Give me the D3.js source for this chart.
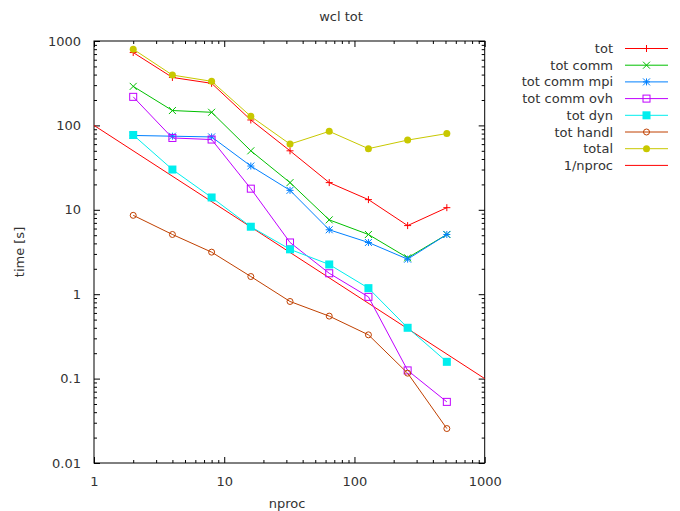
<!DOCTYPE html>
<html>
<head>
<meta charset="utf-8">
<script src="https://cdn.jsdelivr.net/npm/d3@7"></script>
<style>
  body { margin: 0; background: #fff; }
  text { font-family: "DejaVu Sans", sans-serif; fill: #333; }
</style>
</head>
<body>
<div id="chart"></div>
<script>
// data
const nproc = [2, 4, 8, 16, 32, 64, 128, 256, 512]
const tot = [730, 370, 315, 116, 50, 21, 13.2, 6.5, 10.6]
const totComm = [290, 150, 143, 50, 21, 7.6, 5.1, 2.7, 5.1]
const totCommMpi = [76, 74.5, 73, 33, 17, 5.8, 4.1, 2.6, 5.1]
const totCommOvh = [218, 71, 68, 17.8, 4.1, 1.77, 0.93, 0.125, 0.053]
const totDyn = [77, 30, 14, 6.3, 3.4, 2.25, 1.18, 0.40, 0.158]
const totHandl = [8.6, 5.1, 3.15, 1.62, 0.82, 0.55, 0.33, 0.116, 0.0256]
const total = [800, 395, 333, 128, 60, 85, 53, 67, 80]
const refX = [1, 1000]
const refY = [100, 0.1]

const seriesNames = ['tot', 'tot comm', 'tot comm mpi', 'tot comm ovh', 'tot dyn', 'tot handl', 'total', '1/nproc']
const seriesColors = ['#ff0000', '#00c000', '#0080ff', '#c000ff', '#00eeee', '#c04000', '#c8c800', '#ff0000']
const seriesMarks = ['plus', 'cross', 'star', 'square', 'fsquare', 'circle', 'fcircle', 'none']

const xTickLabels = [1, 10, 100, 1000]
const yTickLabels = [0.01, 0.1, 1, 10, 100, 1000]

let width = 680
let height = 511

const svg = d3.select('#chart')
	.append('svg')
	.attr('width', width)
	.attr('height', height)

let plotLeft = 94, plotRight = 484.7, plotTop = 41, plotBottom = 463

let xScale = d3.scaleLog()
	.domain([1, 1000])
	.range([plotLeft, plotRight])

let yScale = d3.scaleLog()
	.domain([0.01, 1000])
	.range([plotBottom, plotTop])

let xMinor = xScale.ticks().filter(d => !xTickLabels.includes(d))
let yMinor = yScale.ticks().filter(d => !yTickLabels.includes(d))

// ticks, mirrored on all four sides, pointing inward
function tickAxis(axisFn, scale, values, size, transform, labels){
	let g = svg.append('g')
		.attr('transform', transform)
		.call(axisFn(scale).tickValues(values).tickSize(size).tickSizeOuter(0)
			.tickFormat(labels ? d => d : ''))
	g.select('.domain').remove()
	g.selectAll('line').attr('stroke', '#000')
	return g
}

let xLab = tickAxis(d3.axisBottom, xScale, xTickLabels, -6, `translate(0,${plotBottom})`, true)
xLab.selectAll('text').attr('dy', '1.55em').style('font-size', '13px')
tickAxis(d3.axisBottom, xScale, xMinor, -3, `translate(0,${plotBottom})`, false)
tickAxis(d3.axisTop, xScale, xTickLabels, -6, `translate(0,${plotTop})`, false)
tickAxis(d3.axisTop, xScale, xMinor, -3, `translate(0,${plotTop})`, false)

let yLab = tickAxis(d3.axisLeft, yScale, yTickLabels, -6, `translate(${plotLeft},0)`, true)
yLab.selectAll('text').attr('x', -13).style('font-size', '13px')
tickAxis(d3.axisLeft, yScale, yMinor, -3, `translate(${plotLeft},0)`, false)
tickAxis(d3.axisRight, yScale, yTickLabels, -6, `translate(${plotRight},0)`, false)
tickAxis(d3.axisRight, yScale, yMinor, -3, `translate(${plotRight},0)`, false)
svg.selectAll('.tick text').attr('fill', '#333').attr('font-family', '"DejaVu Sans", sans-serif')

svg.append('rect')
	.attr('x', plotLeft)
	.attr('y', plotTop)
	.attr('width', plotRight - plotLeft)
	.attr('height', plotBottom - plotTop)
	.attr('fill', 'none')
	.attr('stroke', '#000')
	.attr('stroke-width', 1)

// titles
svg.append('text').attr('x', 341).attr('y', 21).attr('text-anchor', 'middle')
	.style('font-size', '13px').text('wcl tot')
svg.append('text').attr('x', 287).attr('y', 508).attr('text-anchor', 'middle')
	.style('font-size', '13px').text('nproc')
svg.append('text').attr('transform', 'translate(24,252) rotate(-90)').attr('text-anchor', 'middle')
	.style('font-size', '13px').text('time [s]')

function drawMark(g, kind, x, y, color){
	let s = 3.5
	if (kind == 'plus'){
		g.append('path').attr('d', `M${x-s},${y}H${x+s}M${x},${y-s}V${y+s}`).attr('stroke', color).attr('fill', 'none')
	}
	else if (kind == 'cross'){
		g.append('path').attr('d', `M${x-s},${y-s}L${x+s},${y+s}M${x-s},${y+s}L${x+s},${y-s}`).attr('stroke', color).attr('fill', 'none')
	}
	else if (kind == 'star'){
		g.append('path').attr('d', `M${x-s},${y}H${x+s}M${x},${y-s}V${y+s}M${x-s},${y-s}L${x+s},${y+s}M${x-s},${y+s}L${x+s},${y-s}`).attr('stroke', color).attr('fill', 'none')
	}
	else if (kind == 'square'){
		g.append('rect').attr('x', x-3.5).attr('y', y-3.5).attr('width', 7).attr('height', 7).attr('stroke', color).attr('fill', 'none')
	}
	else if (kind == 'fsquare'){
		g.append('rect').attr('x', x-4).attr('y', y-4).attr('width', 8).attr('height', 8).attr('fill', color)
	}
	else if (kind == 'circle'){
		g.append('circle').attr('cx', x).attr('cy', y).attr('r', 3).attr('stroke', color).attr('fill', 'none')
	}
	else if (kind == 'fcircle'){
		g.append('circle').attr('cx', x).attr('cy', y).attr('r', 3.5).attr('fill', color)
	}
}

let allValues = [tot, totComm, totCommMpi, totCommOvh, totDyn, totHandl, total]

let line = d3.line()
	.x(d => xScale(d[0]))
	.y(d => yScale(d[1]))

let plot = svg.append('g')

// reference line first
plot.append('path')
	.datum(refX.map((x, i) => [x, refY[i]]))
	.attr('d', line)
	.attr('stroke', seriesColors[7])
	.attr('fill', 'none')
	.attr('stroke-width', 1)

allValues.forEach(function(vals, i){
	let pts = nproc.map((x, j) => [x, vals[j]])
	let g = plot.append('g')
	g.append('path')
		.datum(pts)
		.attr('d', line)
		.attr('stroke', seriesColors[i])
		.attr('fill', 'none')
		.attr('stroke-width', 1)
	pts.forEach(p => drawMark(g, seriesMarks[i], xScale(p[0]), yScale(p[1]), seriesColors[i]))
})

// legend
let legend = svg.append('g')
seriesNames.forEach(function(name, i){
	let y = 48.5 + i * 16.7
	legend.append('text')
		.attr('x', 613)
		.attr('y', y + 4.5)
		.attr('text-anchor', 'end')
		.style('font-size', '13px')
		.text(name)
	legend.append('line')
		.attr('x1', 625).attr('x2', 668)
		.attr('y1', y).attr('y2', y)
		.attr('stroke', seriesColors[i])
	drawMark(legend, seriesMarks[i], 646.5, y, seriesColors[i])
})
</script>
</body>
</html>
